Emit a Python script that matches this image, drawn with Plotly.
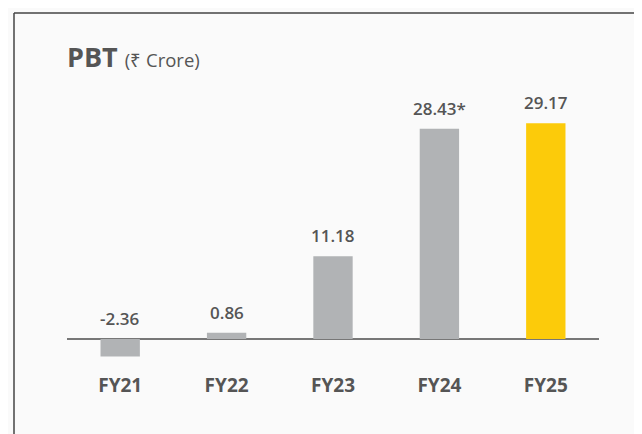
import plotly.graph_objects as go

categories = ["FY21", "FY22", "FY23", "FY24", "FY25"]
pbt_values = [-2.36, 0.86, 11.18, 28.43, 29.17]
value_labels = ["-2.36", "0.86", "11.18", "28.43*", "29.17"]
bar_colors = ["#b1b3b5", "#b1b3b5", "#b1b3b5", "#b1b3b5", "#fccb0a"]

W, H = 642, 434
OFF = 8  # page body margin
ml, mr, mt, mb = 67 - OFF, 43 + OFF, 100 - OFF, 68 + OFF
pw = W - ml - mr
ph = H - mt - mb

fig = go.Figure()
fig.add_trace(go.Bar(
    x=categories, y=pbt_values, marker=dict(color=bar_colors, line=dict(width=0)),
    width=0.37, hoverinfo="skip",
))

for c, v, t in zip(categories, pbt_values, value_labels):
    fig.add_annotation(
        x=c, y=max(v, 0), text=t, showarrow=False, xanchor="center", yanchor="bottom",
        yshift=7, font=dict(family="Open Sans", size=17, color="#555555", weight=600),
    )

# frame lines (left and top)
x_left = (14 - OFF - ml) / pw
y_top = (H - (13 - OFF) - mb) / ph
fig.add_shape(type="line", xref="paper", yref="paper", x0=x_left, x1=x_left,
              y0=y_top, y1=-mb / ph - 0.05, line=dict(color="#444444", width=1.5))
fig.add_shape(type="line", xref="paper", yref="paper", x0=x_left, x1=(W - ml) / pw + 0.05,
              y0=y_top, y1=y_top, line=dict(color="#444444", width=1.5))

fig.update_layout(
    width=W, height=H,
    margin=dict(l=ml, r=mr, t=mt, b=mb),
    paper_bgcolor="#fafafa", plot_bgcolor="#fafafa",
    showlegend=False,
    font=dict(family="Open Sans", color="#555555"),
    title=dict(
        text="<b>PBT</b> <span style='font-size:18.5px'>(₹ Crore)</span>",
        x=(67 - OFF) / W, xanchor="left", xref="container",
        y=1 - (58 - OFF) / H, yanchor="middle", yref="container",
        font=dict(family="Open Sans", size=27, color="#555555"),
    ),
    xaxis=dict(
        range=[-0.5, 4.5], showgrid=False, showline=False, zeroline=False,
        ticks="outside", ticklen=2, tickcolor="rgba(0,0,0,0)",
        tickfont=dict(family="Open Sans", size=19, color="#555555", weight="bold"),
        fixedrange=True,
    ),
    yaxis=dict(
        range=[-3.65, 32.3], showgrid=False, showticklabels=False, showline=False,
        zeroline=True, zerolinecolor="#777777", zerolinewidth=1.5,
        fixedrange=True,
    ),
)

fig.write_html("out.html")
